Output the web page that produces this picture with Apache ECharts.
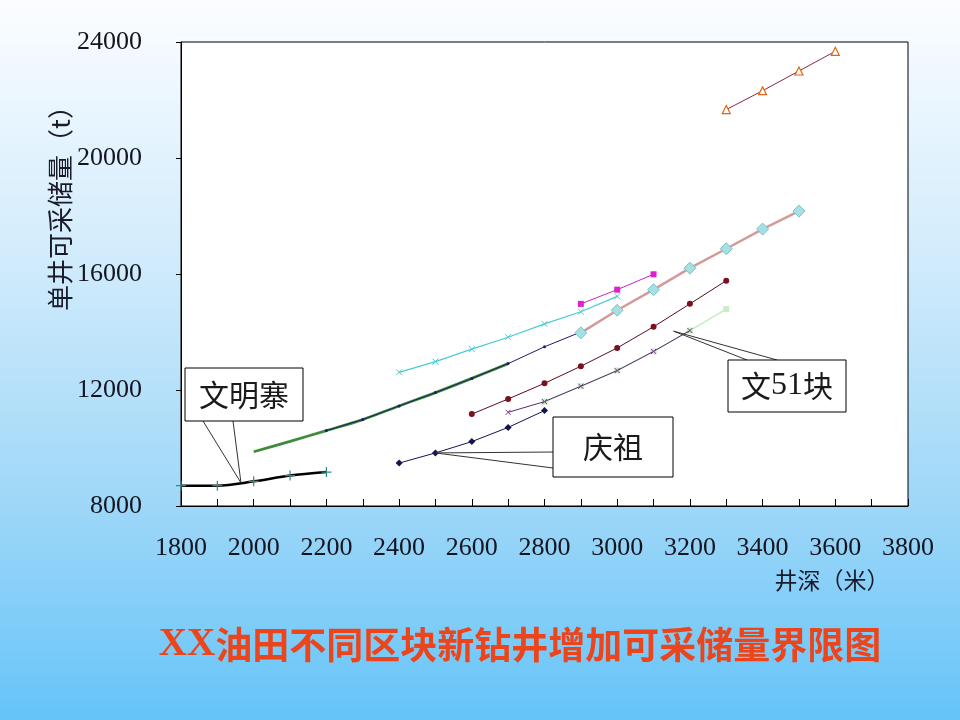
<!DOCTYPE html>
<html>
<head>
<meta charset="utf-8">
<title>XX油田不同区块新钻井增加可采储量界限图</title>
<script src="https://cdn.jsdelivr.net/npm/echarts@6/dist/echarts.min.js"></script>
<style>
  html, body { margin: 0; padding: 0; }
  #main { width: 960px; height: 720px; }
</style>
</head>
<body>
<div id="main"></div>
<script>
// depth (m) and reserves (t) per block
var wmzDepth = [1800, 1900, 2000, 2100, 2200];
var wmzValue = [8700, 8700, 8850, 9050, 9170];

var trendDepth = [2000, 2100, 2200, 2300, 2400, 2500, 2600, 2700];
var trendValue = [9870, 10230, 10600, 10980, 11450, 11910, 12400, 12910];

var navyDepth = [2200, 2300, 2400, 2500, 2600, 2700, 2800, 2900];
var navyValue = [10600, 10980, 11450, 11910, 12400, 12910, 13490, 14000];

var pinkDepth = [2900, 3000, 3100, 3200, 3300, 3400, 3500];
var pinkValue = [13970, 14750, 15460, 16200, 16870, 17550, 18170];

var magDepth = [2900, 3000, 3100];
var magValue = [14970, 15460, 15990];

var cyanDepth = [2400, 2500, 2600, 2700, 2800, 2900, 3000];
var cyanValue = [12610, 12980, 13410, 13820, 14280, 14700, 15230];

var redDepth = [2600, 2700, 2800, 2900, 3000, 3100, 3200, 3300];
var redValue = [11170, 11690, 12230, 12820, 13450, 14180, 14970, 15770];

var paleDepth = [2800, 2900, 3000, 3100, 3200, 3300];
var paleValue = [11600, 12130, 12670, 13330, 14050, 14790];

var purpleDepth = [2700, 2800, 2900, 3000, 3100, 3200];
var purpleValue = [11230, 11600, 12130, 12670, 13330, 14050];

var qzDepth = [2400, 2500, 2600, 2700, 2800];
var qzValue = [9480, 9830, 10220, 10710, 11290];

var orangeDepth = [3300, 3400, 3500, 3600];
var orangeValue = [21670, 22320, 23000, 23680];

function pairs(xs, ys) {
  var out = [];
  for (var i = 0; i < xs.length; i++) out.push([xs[i], ys[i]]);
  return out;
}

var plusSym = 'path://M5,0 L5,10 M0,5 L10,5';
var crossSym = 'path://M0,0 L10,10 M10,0 L0,10';
var serif = '"Liberation Serif", "DejaVu Serif", serif';
var cjk = '"Noto Sans CJK SC", sans-serif';

var myChart = echarts.init(document.getElementById('main'));

var option = {
  animation: false,
  backgroundColor: {
    type: 'linear', x: 0, y: 0, x2: 0, y2: 1,
    colorStops: [
      { offset: 0, color: '#fbfdff' },
      { offset: 0.35, color: '#d2ecfc' },
      { offset: 0.7, color: '#9ed7f8' },
      { offset: 1, color: '#66c4f8' }
    ]
  },
  grid: {
    left: 181, top: 42, right: 52, bottom: 214,
    show: true, backgroundColor: '#fff', borderColor: '#000', borderWidth: 1
  },
  xAxis: {
    type: 'value', min: 1800, max: 3800, interval: 200,
    axisLine: { onZero: false, lineStyle: { color: '#000', width: 1 } },
    axisTick: { inside: true, length: 7, lineStyle: { color: '#000' } },
    minorTick: { show: true, splitNumber: 2, length: 7, lineStyle: { color: '#000' } },
    splitLine: { show: false },
    axisLabel: {
      margin: 29, fontFamily: serif, fontSize: 26, color: '#151520',
      formatter: function (v) { return String(v); }
    }
  },
  yAxis: {
    type: 'value', min: 8000, max: 24000, interval: 4000,
    axisLine: { show: true, lineStyle: { color: '#000', width: 1 } },
    axisTick: { show: true, inside: false, length: 5, lineStyle: { color: '#000' } },
    splitLine: { show: false },
    axisLabel: {
      margin: 39, fontFamily: serif, fontSize: 26, color: '#151520',
      formatter: function (v) { return String(v); }
    }
  },
  series: [
    {
      name: '文明寨', type: 'line', data: pairs(wmzDepth, wmzValue), smooth: 0.3,
      lineStyle: { color: '#000', width: 2.5 },
      symbol: plusSym, symbolSize: 10, showAllSymbol: true,
      itemStyle: { color: 'none', borderColor: '#2f8a86', borderWidth: 1.2 }, z: 5
    },
    {
      name: '趋势', type: 'line', data: pairs(trendDepth, trendValue), smooth: 0.3,
      lineStyle: { color: '#3d8c3a', width: 2.8 }, symbol: 'none', z: 2
    },
    {
      name: '文中', type: 'line', data: pairs(navyDepth, navyValue),
      lineStyle: { color: '#1c1c6a', width: 1 },
      symbol: 'circle', symbolSize: 3, itemStyle: { color: '#1c1c6a' }, z: 3
    },
    {
      name: '文东', type: 'line', data: pairs(pinkDepth, pinkValue),
      lineStyle: { color: '#d49a9a', width: 2.5 },
      symbol: 'diamond', symbolSize: 12,
      itemStyle: { color: '#a6e0e2', borderColor: '#78c4c8', borderWidth: 1 }, z: 4
    },
    {
      name: '文南', type: 'line', data: pairs(magDepth, magValue),
      lineStyle: { color: '#c828b8', width: 1 },
      symbol: 'rect', symbolSize: 6, itemStyle: { color: '#e020d0' }, z: 4
    },
    {
      name: '文北', type: 'line', data: pairs(cyanDepth, cyanValue),
      lineStyle: { color: '#48cdd2', width: 1.2 },
      symbol: crossSym, symbolSize: 6,
      itemStyle: { color: 'none', borderColor: '#48cdd2', borderWidth: 1 }, z: 4
    },
    {
      name: '文51块上', type: 'line', data: pairs(redDepth, redValue),
      lineStyle: { color: '#5a0c1c', width: 1 },
      symbol: 'circle', symbolSize: 6, itemStyle: { color: '#7a1020' }, z: 4
    },
    {
      name: '文51块下', type: 'line', data: pairs(paleDepth, paleValue),
      lineStyle: { color: '#c8eec8', width: 1.6 },
      symbol: 'rect', symbolSize: 6, itemStyle: { color: '#c8eec8' }, z: 3
    },
    {
      name: '文51块', type: 'line', data: pairs(purpleDepth, purpleValue),
      lineStyle: { color: '#5a2a70', width: 1 },
      symbol: crossSym, symbolSize: 5,
      itemStyle: { color: 'none', borderColor: '#7a3a8a', borderWidth: 1 }, z: 4
    },
    {
      name: '庆祖', type: 'line', data: pairs(qzDepth, qzValue),
      lineStyle: { color: '#141450', width: 1 },
      symbol: 'diamond', symbolSize: 7, itemStyle: { color: '#141450' }, z: 4
    },
    {
      name: '深层', type: 'line', data: pairs(orangeDepth, orangeValue),
      lineStyle: { color: '#8a2a3a', width: 1 },
      symbol: 'triangle', symbolSize: 8,
      itemStyle: { color: '#fff', borderColor: '#e06414', borderWidth: 1.2 }, z: 4
    }
  ]
};
myChart.setOption(option);

// callouts: box in page pixels, tip taken from the data scale
function callout(text, box, from, tipData, fontSize) {
  var tip = myChart.convertToPixel({ gridIndex: 0 }, tipData);
  var els = [];
  from.forEach(function (p) {
    els.push({
      type: 'line', z: 50,
      shape: { x1: p[0], y1: p[1], x2: tip[0], y2: tip[1] },
      style: { stroke: '#333', lineWidth: 1 }
    });
  });
  els.push({
    type: 'rect', z: 51,
    shape: { x: box[0], y: box[1], width: box[2], height: box[3] },
    style: { fill: '#fff', stroke: '#000', lineWidth: 1 }
  });
  els.push({
    type: 'text', z: 52,
    x: box[0] + box[2] / 2, y: box[1] + box[3] / 2,
    style: {
      text: text, fontFamily: cjk, fontSize: fontSize,
      fill: '#1a1a1a', align: 'center', verticalAlign: 'middle'
    }
  });
  return els;
}

var graphics = [];
graphics = graphics.concat(callout('文明寨', [185, 368, 118, 53], [[203, 421], [233, 421]], [1965, 8800], 30));
graphics = graphics.concat(callout('庆祖', [553, 417, 120, 60], [[553, 452], [553, 468]], [2500, 9830], 30));
graphics = graphics.concat(callout('{a|文}{b|51}{a|块}', [728, 360, 118, 52], [[747, 360], [777, 360]], [3155, 14030], 30));

// rich text for the 文51块 label
graphics[graphics.length - 1].style.rich = {
  a: { fontFamily: cjk, fontSize: 30, fill: '#1a1a1a' },
  b: { fontFamily: serif, fontSize: 32, fill: '#1a1a1a' }
};

graphics.push({
  type: 'text', z: 60, x: 60, y: 202, rotation: Math.PI / 2,
  style: {
    text: '单井可采储量（t）', fontFamily: cjk, fontSize: 26, fill: '#1a1a2a',
    align: 'center', verticalAlign: 'middle'
  }
});
graphics.push({
  type: 'text', z: 60, x: 832, y: 580,
  style: {
    text: '井深（米）', fontFamily: cjk, fontSize: 23, fill: '#1a1a2a',
    align: 'center', verticalAlign: 'middle'
  }
});
graphics.push({
  type: 'text', z: 60, x: 520, y: 645,
  style: {
    text: '{a|XX}{b|油田不同区块新钻井增加可采储量界限图}',
    align: 'center', verticalAlign: 'middle',
    textShadowColor: 'rgba(255,255,255,0.55)', textShadowOffsetX: 2, textShadowOffsetY: 2,
    rich: {
      a: { fontFamily: serif, fontWeight: 'bold', fontSize: 39, fill: '#ec451c' },
      b: { fontFamily: cjk, fontWeight: 'bold', fontSize: 37, fill: '#ec451c' }
    }
  }
});

myChart.setOption({ graphic: { elements: graphics } });
</script>
</body>
</html>
